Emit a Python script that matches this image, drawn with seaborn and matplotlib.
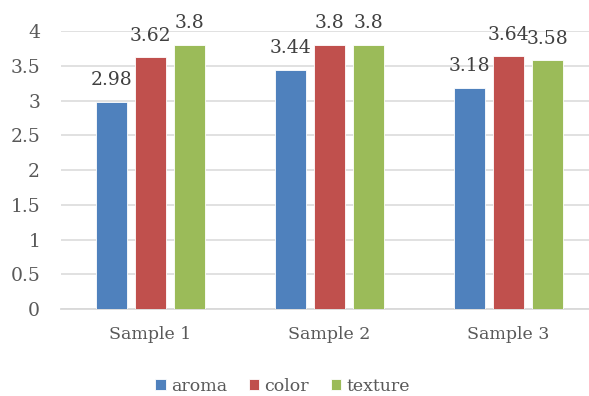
import matplotlib
matplotlib.use("Agg")
import matplotlib.pyplot as plt
import seaborn as sns
import pandas as pd

samples = ["Sample 1", "Sample 2", "Sample 3"]
attributes = ["aroma", "color", "texture"]
aroma = [2.98, 3.44, 3.18]
color = [3.62, 3.80, 3.64]
texture = [3.80, 3.80, 3.58]
y_ticks = [0, 0.5, 1, 1.5, 2, 2.5, 3, 3.5, 4]
y_tick_labels = ["0", "0.5", "1", "1.5", "2", "2.5", "3", "3.5", "4"]

palette = {"aroma": "#4F81BD", "color": "#C0504D", "texture": "#9BBB59"}

df = pd.DataFrame({
    "sample": samples * 3,
    "attribute": ["aroma"] * 3 + ["color"] * 3 + ["texture"] * 3,
    "score": aroma + color + texture,
})

sns.set_theme(style="white")
plt.rcParams["font.family"] = ["DejaVu Serif"]

fig = plt.figure(figsize=(5.89, 3.96), dpi=100)
ax = fig.add_axes([0.1036, 0.2197, 0.8964, 0.702])

sns.barplot(data=df, x="sample", y="score", hue="attribute",
            order=samples, hue_order=attributes, palette=palette,
            width=0.66, gap=0.21, saturation=1, errorbar=None,
            edgecolor="white", linewidth=0.6, ax=ax, zorder=3)

for cont in ax.containers:
    labels = [f"{v:g}" for v in cont.datavalues]
    ax.bar_label(cont, labels=labels, padding=9, fontsize=13.5, color="#404040")

ax.set_xlim(-0.5, 2.45)
ax.set_ylim(0, 4)
ax.set_yticks(y_ticks)
ax.set_yticklabels(y_tick_labels)
ax.yaxis.grid(True, color="#D9D9D9", linewidth=1.1, zorder=0)
ax.set_axisbelow(True)
for s in ["top", "right", "left"]:
    ax.spines[s].set_visible(False)
ax.spines["bottom"].set_color("#D9D9D9")
ax.spines["bottom"].set_linewidth(1.3)
ax.tick_params(axis="y", length=0, pad=15, labelsize=13.5, labelcolor="#595959")
ax.tick_params(axis="x", length=0, pad=12, labelsize=12.5, labelcolor="#595959")
ax.set_xlabel("")
ax.set_ylabel("")

handles, labels = ax.get_legend_handles_labels()
ax.legend_.remove()
fig.legend(handles, labels, loc="center", bbox_to_anchor=(0.48, 0.025),
           ncol=3, frameon=False, fontsize=12.5, labelcolor="#595959",
           handlelength=0.6, handleheight=0.6, handletextpad=0.3,
           columnspacing=1.25)

fig.savefig("out.png", dpi=100)
